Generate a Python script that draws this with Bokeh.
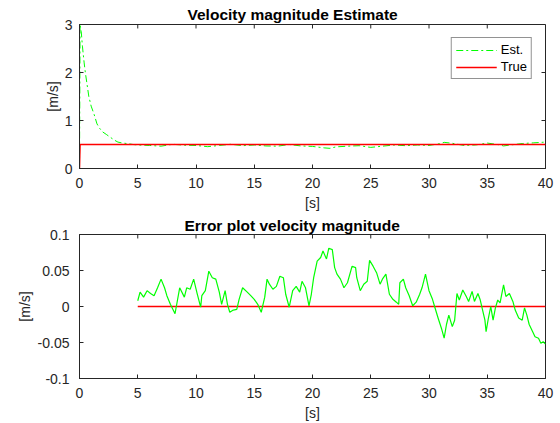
from bokeh.plotting import figure
from bokeh.models import Range1d, FixedTicker, Legend, LegendItem
from bokeh.layouts import column
from bokeh.embed import file_html
from bokeh.resources import INLINE

# ---- data ----
est_t = [0, 0.05, 0.15, 0.25, 0.4, 0.5, 0.65, 0.8, 1.0, 1.25, 1.5, 1.75, 2.0, 2.3, 2.65,
         3.0, 3.3, 3.7, 4.1, 4.6, 5, 6, 7, 8, 9, 10, 11, 12, 13, 14, 15, 16, 17, 18, 19,
         20, 21, 21.5, 22, 23, 24, 25, 26, 27, 28, 29, 30, 31, 31.3, 32, 33, 34, 35, 36,
         36.4, 37, 38, 39, 40]
est_v = [0, 3.0, 2.85, 2.55, 2.2, 2.0, 1.75, 1.5, 1.3, 1.13, 0.93, 0.83, 0.76, 0.71, 0.65,
         0.59, 0.55, 0.53, 0.52, 0.50, 0.49, 0.48, 0.465, 0.505, 0.485, 0.48, 0.455, 0.48,
         0.505, 0.475, 0.49, 0.47, 0.465, 0.50, 0.47, 0.46, 0.43, 0.42, 0.45, 0.465, 0.475,
         0.44, 0.465, 0.49, 0.475, 0.49, 0.48, 0.52, 0.545, 0.525, 0.48, 0.49, 0.53, 0.495,
         0.47, 0.49, 0.52, 0.535, 0.55]
true_t = [0, 0.05, 40]
true_v = [0, 0.5, 0.5]

err_t = [5.0, 5.2, 5.5, 5.8, 6.1, 6.4, 6.7, 7.0, 7.3, 7.5, 7.8, 8.2, 8.4, 8.6, 9.0, 9.2, 9.5,
         9.8, 10.1, 10.4, 10.5, 10.8, 11.1, 11.4, 11.7, 12.0, 12.2, 12.5, 12.7, 12.9, 13.2,
         13.5, 13.7, 14.0, 14.4, 14.7, 15.0, 15.3, 15.6, 15.9, 16.1, 16.3, 16.6, 16.9, 17.2,
         17.5, 17.7, 18.0, 18.3, 18.6, 18.9, 19.1, 19.4, 19.7, 19.9, 20.1, 20.4, 20.7, 20.9,
         21.2, 21.4, 21.7, 21.9, 22.1, 22.4, 22.7, 23.0, 23.4, 23.7, 23.8, 24.1, 24.4, 24.7,
         24.9, 25.2, 25.5, 25.8, 26.0, 26.3, 26.6, 26.9, 27.2, 27.4, 27.5, 27.8, 28.0, 28.3,
         28.6, 28.9, 29.2, 29.4, 29.7, 30.0, 30.3, 30.5, 30.8, 31.1, 31.3, 31.5, 31.7, 32.0,
         32.2, 32.4, 32.6, 32.9, 33.2, 33.4, 33.7, 33.9, 34.2, 34.4, 34.6, 34.8, 34.9, 35.1,
         35.3, 35.5, 35.7, 35.9, 36.1, 36.4, 36.6, 36.9, 37.2, 37.4, 37.7, 38.0, 38.2, 38.4,
         38.6, 38.9, 39.1, 39.4, 39.6, 39.8, 40.0]
err_v = [0.008, 0.02, 0.013, 0.022, 0.018, 0.015, 0.026, 0.038, 0.026, 0.015, 0.003, -0.010,
         0.008, 0.026, 0.013, 0.026, 0.024, 0.038, 0.018, -0.001, 0.015, 0.022, 0.049, 0.040,
         0.038, 0.020, 0.003, 0.022, 0.003, -0.008, -0.005, -0.004, 0.010, 0.026, 0.020,
         0.015, 0.010, 0.003, -0.008, 0.013, 0.038, 0.031, 0.024, 0.028, 0.042, 0.040, 0.017,
         -0.001, 0.022, 0.028, 0.020, 0.035, 0.026, 0.001, 0.017, 0.040, 0.063, 0.068, 0.077,
         0.066, 0.081, 0.079, 0.054, 0.045, 0.038, 0.026, 0.033, 0.056, 0.054, 0.040, 0.022,
         0.031, 0.035, 0.064, 0.056, 0.047, 0.031, 0.038, 0.045, 0.017, 0.010, 0.006, 0.003,
         0.033, 0.038, 0.026, 0.015, 0.001, 0.006, 0.017, 0.026, 0.045, 0.022, 0.010, -0.001,
         -0.017, -0.032, -0.044, -0.025, -0.012, -0.028, -0.019, 0.018, 0.009, 0.023, 0.014,
         0.007, 0.021, 0.007, 0.018, 0.009, -0.005, -0.019, -0.035, -0.016, 0.000, -0.019,
         -0.002, 0.009, 0.005, 0.030, 0.014, 0.018, 0.007, -0.005, -0.016, -0.019, -0.002,
         -0.012, -0.025, -0.035, -0.042, -0.044, -0.051, -0.049, -0.052]
zero_t = [5, 40]
zero_v = [0, 0]

x_ticks = [0, 5, 10, 15, 20, 25, 30, 35, 40]
y1_ticks = [0, 1, 2, 3]
y2_ticks = [-0.1, -0.05, 0, 0.05, 0.1]
y2_labels = {-0.1: "-0.1", -0.05: "-0.05", 0: "0", 0.05: "0.05", 0.1: "0.1"}

FONT = "Liberation Sans"
AX = "#262626"
FRAME_W = 466
FRAME_H = 145
TICK = 4


def style(p, xt, yt, title, title_offset, title_standoff, tick_standoff, label_standoff):
    p.title.text = title
    p.title.text_font = FONT
    p.title.text_font_size = "15.5px"
    p.title.text_font_style = "bold"
    p.title.align = "left"
    p.title.offset = title_offset
    p.title.text_color = "black"
    p.title.standoff = title_standoff
    p.xgrid.visible = False
    p.ygrid.visible = False
    p.outline_line_color = AX
    p.outline_line_width = 1
    for ax in (p.xaxis[0], p.yaxis[0]):
        ax.major_label_text_font = FONT
        ax.major_label_text_font_size = "14px"
        ax.major_label_text_color = AX
        ax.axis_label_text_font = FONT
        ax.axis_label_text_font_size = "14px"
        ax.axis_label_text_font_style = "normal"
        ax.axis_label_text_color = AX
        ax.axis_line_color = AX
        ax.major_tick_line_color = AX
        ax.major_tick_in = TICK
        ax.major_tick_out = 0
        ax.minor_tick_line_color = None
    p.xaxis[0].major_label_standoff = 9
    p.xaxis[0].axis_label_standoff = 4
    p.yaxis[0].major_label_standoff = tick_standoff
    p.yaxis[0].axis_label_standoff = label_standoff
    p.xaxis[0].ticker = FixedTicker(ticks=xt)
    p.yaxis[0].ticker = FixedTicker(ticks=yt)
    p.xaxis[0].axis_label = "[s]"
    p.yaxis[0].axis_label = "[m/s]"
    # mirrored inward ticks on the top and right edges of the box
    x0, x1 = p.x_range.start, p.x_range.end
    y0, y1 = p.y_range.start, p.y_range.end
    dy = (y1 - y0) * TICK / FRAME_H
    dx = (x1 - x0) * TICK / FRAME_W
    p.segment(x0=xt, y0=[y1] * len(xt), x1=xt, y1=[y1 - dy] * len(xt),
              line_color=AX, line_width=1)
    p.segment(x0=[x1] * len(yt), y0=yt, x1=[x1 - dx] * len(yt), y1=yt,
              line_color=AX, line_width=1)


p1 = figure(width=560, height=213, output_backend="svg", toolbar_location=None,
            x_range=Range1d(0, 40), y_range=Range1d(0, 3),
            min_border_left=79, min_border_right=15, min_border_top=24, min_border_bottom=44)
style(p1, x_ticks, y1_ticks, "Velocity magnitude Estimate", 108, 4, 7, 1)
r_est = p1.line(est_t, est_v, line_color="#00ff00", line_width=1, line_dash="7 3 2 3")
r_true = p1.line(true_t, true_v, line_color="#ff0000", line_width=1.5)
leg = Legend(items=[LegendItem(label="Est.", renderers=[r_est]),
                    LegendItem(label="True", renderers=[r_true])],
             location="top_right")
leg.label_text_font = FONT
leg.label_text_font_size = "13px"
leg.label_text_color = "black"
leg.border_line_color = AX
leg.border_line_width = 1
leg.background_fill_color = "white"
leg.background_fill_alpha = 1
leg.padding = 4
leg.spacing = 2
leg.margin = 13
leg.glyph_width = 41
leg.glyph_height = 14
leg.label_standoff = 4
leg.label_height = 14
p1.add_layout(leg)

p2 = figure(width=560, height=210, output_backend="svg", toolbar_location=None,
            x_range=Range1d(0, 40), y_range=Range1d(-0.1, 0.1),
            min_border_left=79, min_border_right=15, min_border_top=21, min_border_bottom=44)
style(p2, x_ticks, y2_ticks, "Error plot velocity magnitude", 105, 2, 10, 2)
p2.yaxis[0].major_label_overrides = y2_labels
p2.line(zero_t, zero_v, line_color="#ff0000", line_width=1.5)
p2.line(err_t, err_v, line_color="#00ff00", line_width=1.2)

layout = column(p1, p2, spacing=0)
open("out.html", "w").write(file_html(layout, INLINE))
